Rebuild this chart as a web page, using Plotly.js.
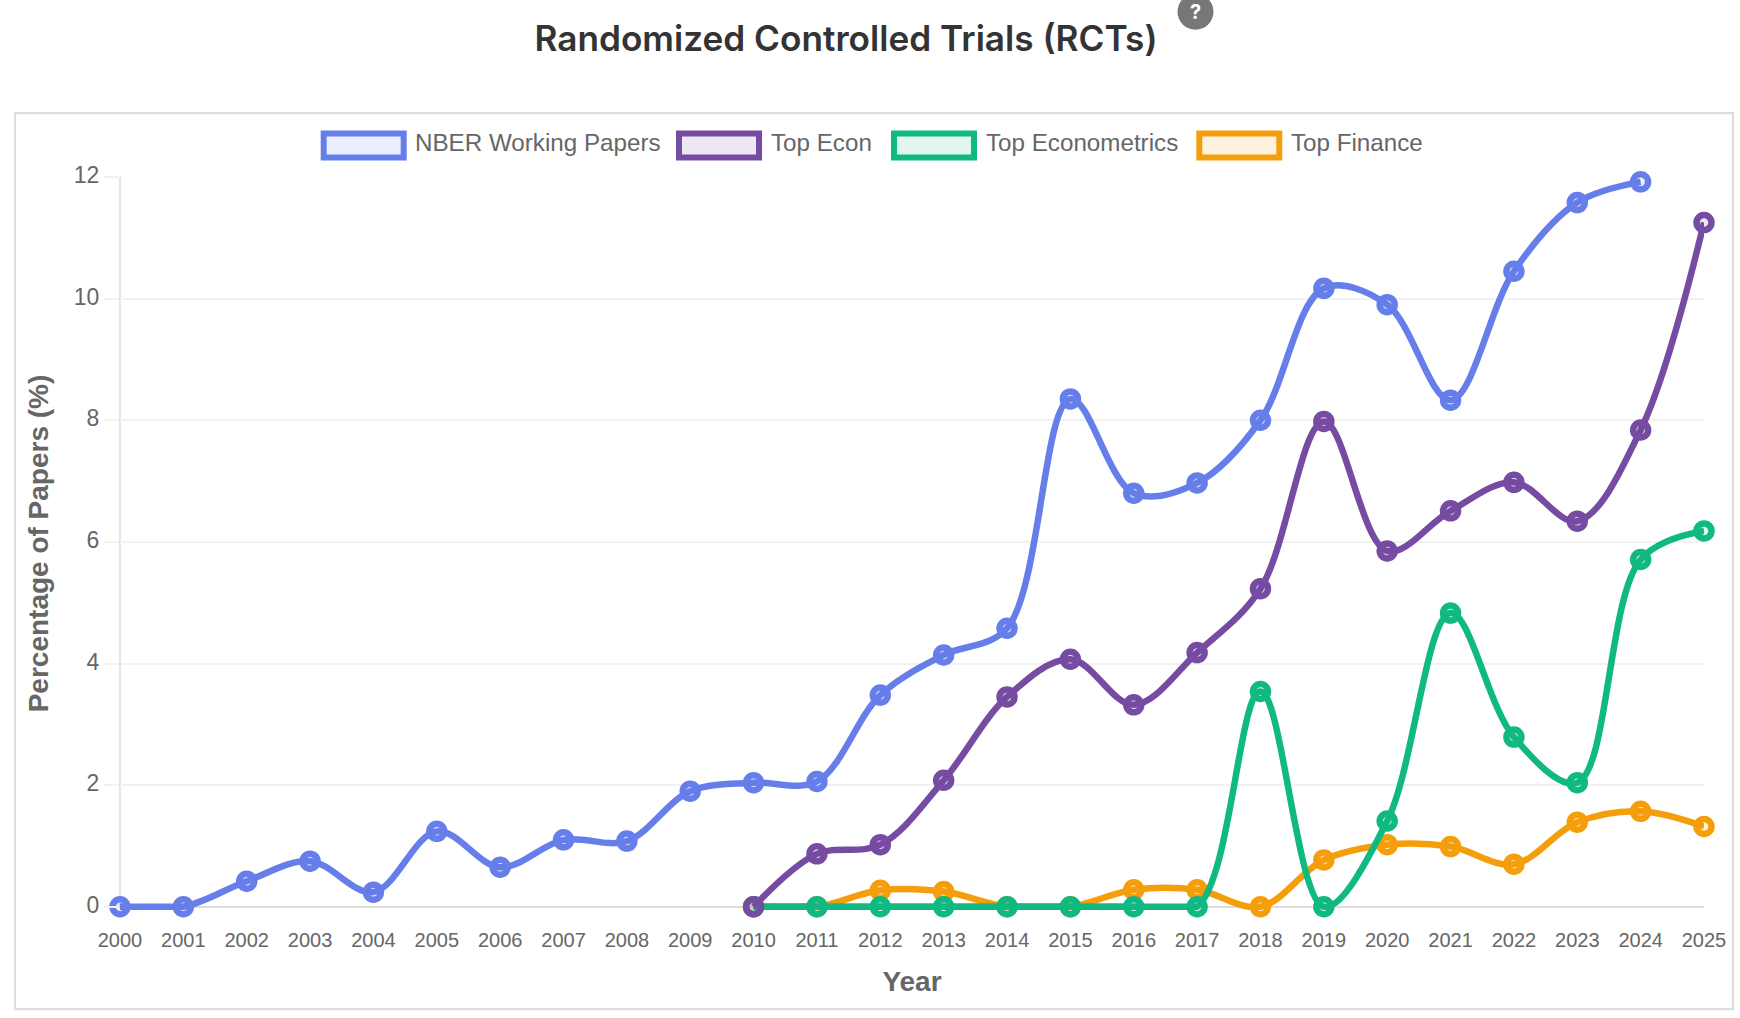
<!DOCTYPE html>
<html><head><meta charset="utf-8">
<script src="https://cdn.plot.ly/plotly-3.0.1.min.js"></script>
<style>html,body{margin:0;padding:0;background:#fff;overflow:hidden}#chart{width:1740px;height:1018px}</style>
</head><body><div id="chart"></div>
<script>
const years = [2000,2001,2002,2003,2004,2005,2006,2007,2008,2009,2010,2011,2012,2013,2014,2015,2016,2017,2018,2019,2020,2021,2022,2023,2024,2025];
const years2010 = years.slice(10);
const nberValues = [0,0,0.42,0.75,0.24,1.24,0.65,1.10,1.08,1.90,2.04,2.06,3.48,4.14,4.58,8.35,6.80,6.97,8.00,10.17,9.90,8.33,10.45,11.58,11.92];
const econValues = [0,0.87,1.02,2.08,3.45,4.07,3.32,4.18,5.23,7.98,5.85,6.51,6.98,6.34,7.84,11.25];
const metricsValues = [0,0,0,0,0,0,0,0,3.54,0,1.41,4.83,2.79,2.04,5.71,6.18];
const financeValues = [0,0,0.27,0.25,0,0,0.28,0.28,0,0.77,1.02,0.99,0.70,1.39,1.57,1.32];
const seriesNames = ['NBER Working Papers','Top Econ','Top Econometrics','Top Finance'];
const seriesColors = ['#667eea','#764ba2','#10b981','#f59e0b'];
const seriesFills = ['rgba(102,126,234,0.13)','rgba(118,75,162,0.13)','rgba(16,185,129,0.13)','rgba(245,158,11,0.13)'];

// lines stay clipped to the plot area: the y range runs half a line width below zero, which also trims the spline's dips under zero
const W=1740,H=1018,L=120,R=1704,T=176.5,B=910.25;
const yMin=-3.25/60.875;
const px=x=>(x-L)/(R-L), py=y=>(B-y)/(B-T);
const sans='"Liberation Sans", Arial, sans-serif';

function trace(i,x,y){return {x,y,name:seriesNames[i],type:'scatter',mode:'lines+markers',cliponaxis:false,showlegend:false,
  line:{color:seriesColors[i],width:6.5,shape:'spline',smoothing:1},
  marker:{symbol:'circle',size:15,color:seriesFills[i],line:{color:seriesColors[i],width:6.5}}};}
function flat(i,x,y){return {x,y,type:'scatter',mode:'lines',cliponaxis:false,showlegend:false,hoverinfo:'skip',line:{color:seriesColors[i],width:6.5,shape:'linear'}};}
const data=[
 flat(3,years2010.slice(0,2),financeValues.slice(0,2)),
 flat(3,years2010.slice(4,6),financeValues.slice(4,6)),
 trace(3,years2010,financeValues),
 flat(2,years2010.slice(0,8),metricsValues.slice(0,8)),
 trace(2,years2010,metricsValues),
 trace(1,years2010,econValues),
 flat(0,years.slice(0,2),nberValues.slice(0,2)),
 trace(0,years.slice(0,25),nberValues)];

const legendX=[320.7,676,891,1196.3], legendTextX=[413,769,984,1289];
const shapes=[
 {type:'rect',xref:'paper',yref:'paper',x0:px(15),x1:px(1733),y0:py(1009.5),y1:py(112.5),line:{color:'#dddddd',width:2.2},fillcolor:'rgba(0,0,0,0)',layer:'below'},
 {type:'line',xref:'paper',yref:'y',x0:0,x1:0,y0:0,y1:12,line:{color:'#e5e5e5',width:2},layer:'below'},
 {type:'line',xref:'paper',yref:'y',x0:px(104),x1:0,y0:0,y1:0,line:{color:'#dddddd',width:2},layer:'below'},
 {type:'circle',xref:'paper',yref:'paper',x0:px(1177.5),x1:px(1213.5),y0:py(29),y1:py(-7),line:{width:0},fillcolor:'#777777'}
];
const annotations=[{xref:'paper',yref:'paper',x:px(1195.5),y:py(11),text:'<b>?</b>',showarrow:false,xanchor:'center',yanchor:'middle',font:{family:'Inter, sans-serif',size:20,color:'#ffffff'}}];
seriesNames.forEach((n,i)=>{
 shapes.push({type:'rect',xref:'paper',yref:'paper',x0:px(legendX[i]+3),x1:px(legendX[i]+83),y0:py(157),y1:py(133),line:{color:seriesColors[i],width:6},fillcolor:seriesFills[i]});
 annotations.push({xref:'paper',yref:'paper',x:px(legendTextX[i]),y:py(142),text:n,showarrow:false,xanchor:'left',yanchor:'middle',font:{family:sans,size:24.2,color:'#666666'}});
});

const layout={width:W,height:H,margin:{l:L,r:W-R,t:T,b:H-B,pad:0},paper_bgcolor:'#fff',plot_bgcolor:'#fff',showlegend:false,
 title:{text:'Randomized Controlled Trials (RCTs)',x:846/W,xanchor:'center',xref:'container',y:1-39/H,yref:'container',yanchor:'middle',font:{family:'Inter, sans-serif',size:35.2,color:'#333333',weight:600}},
 xaxis:{range:[2000,2025],tickmode:'array',tickvals:years,ticktext:years.map(String),tickangle:0,showgrid:false,zeroline:false,showline:false,ticks:'',ticklabelstandoff:16,
  tickfont:{family:sans,size:20,color:'#666666'},title:{text:'Year',standoff:21,font:{family:sans,size:28,color:'#666666',weight:700}}},
 yaxis:{range:[yMin,12],tickmode:'array',tickvals:[0,2,4,6,8,10,12],showgrid:true,gridcolor:'#f2f2f2',gridwidth:2,zeroline:true,zerolinecolor:'#dddddd',zerolinewidth:2,showline:false,
  ticks:'outside',ticklen:15,tickcolor:'#f2f2f2',tickwidth:2,ticklabelstandoff:0,ticklabelshift:-2,tickfont:{family:sans,size:23,color:'#666666'},
  title:{text:'Percentage of Papers (%)',standoff:17,font:{family:sans,size:28,color:'#666666',weight:700}}},
 shapes,annotations};
Plotly.newPlot('chart',data,layout,{displayModeBar:false,responsive:false});
</script></body></html>
